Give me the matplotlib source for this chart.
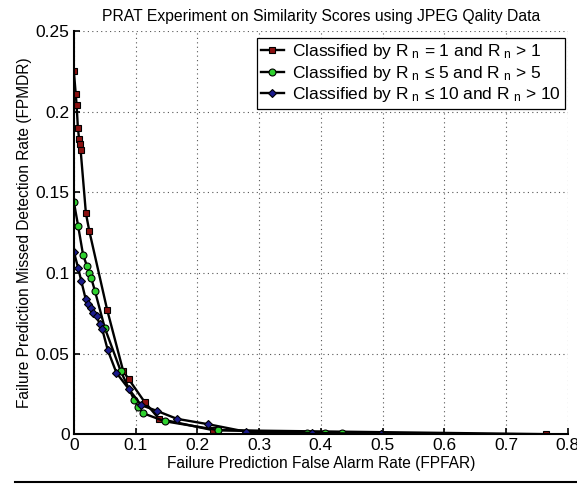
import matplotlib
matplotlib.use('Agg')
import matplotlib.pyplot as plt
from matplotlib.lines import Line2D

plt.rcParams['font.family'] = ['Liberation Sans', 'DejaVu Sans']
plt.rcParams['mathtext.default'] = 'regular'

# data
red_x = [0, 0.003, 0.0045, 0.0065, 0.0085, 0.0097, 0.011, 0.0195, 0.025, 0.054,
         0.08, 0.089, 0.1145, 0.138, 0.225, 0.765]
red_y = [0.225, 0.211, 0.204, 0.19, 0.183, 0.18, 0.176, 0.137, 0.126, 0.077,
         0.039, 0.034, 0.02, 0.0095, 0.0025, 0.0]

green_x = [0, 0.007, 0.015, 0.0215, 0.025, 0.028, 0.034, 0.05, 0.076, 0.098,
           0.104, 0.112, 0.147, 0.234, 0.378, 0.406, 0.434]
green_y = [0.144, 0.129, 0.111, 0.104, 0.1, 0.097, 0.089, 0.066, 0.039, 0.021,
           0.017, 0.013, 0.008, 0.0025, 0.001, 0.0008, 0.0006]

blue_x = [0, 0.007, 0.012, 0.019, 0.023, 0.027, 0.031, 0.037, 0.042, 0.046,
          0.055, 0.069, 0.089, 0.109, 0.134, 0.167, 0.217, 0.279, 0.385, 0.498]
blue_y = [0.113, 0.103, 0.095, 0.084, 0.081, 0.078, 0.075, 0.073, 0.068, 0.065,
          0.052, 0.038, 0.028, 0.018, 0.0145, 0.0095, 0.0062, 0.0015, 0.0008, 0.0]

labels = [r'Classified by R$_{\ n}$ = 1 and R$_{\ n}$ > 1',
          r'Classified by R$_{\ n}$ ≤ 5 and R$_{\ n}$ > 5',
          r'Classified by R$_{\ n}$ ≤ 10 and R$_{\ n}$ > 10']

xticks = [0, 0.1, 0.2, 0.3, 0.4, 0.5, 0.6, 0.7, 0.8]
yticks = [0, 0.05, 0.1, 0.15, 0.2, 0.25]

fig = plt.figure(figsize=(5.77, 4.84), dpi=100)
ax = fig.add_axes([0.128, 0.103, 0.856, 0.833])

ax.plot(red_x, red_y, '-s', color='black', lw=1.7, ms=5, mfc='#8b1010', mec='black',
        mew=0.8, label=labels[0])
ax.plot(green_x, green_y, '-o', color='black', lw=1.7, ms=5, mfc='#2fd02f', mec='black',
        mew=0.8, label=labels[1])
ax.plot(blue_x, blue_y, '-D', color='black', lw=1.7, ms=4.5, mfc='#1a1a8c', mec='black',
        mew=0.8, label=labels[2])

ax.set_xlim(0, 0.8)
ax.set_ylim(0, 0.25)
ax.set_xticks(xticks)
ax.set_xticklabels(['0', '0.1', '0.2', '0.3', '0.4', '0.5', '0.6', '0.7', '0.8'])
ax.set_yticks(yticks)
ax.set_yticklabels(['0', '0.05', '0.1', '0.15', '0.2', '0.25'])
ax.tick_params(direction='in', labelsize=12.5, length=4, width=1.2, pad=3)
ax.grid(True, linestyle=(0, (1, 3)), color='#555555', lw=0.8)
for s in ['top', 'right']:
    ax.spines[s].set_visible(False)
for s in ['left', 'bottom']:
    ax.spines[s].set_linewidth(1.5)

ax.set_title('PRAT Experiment on Similarity Scores using JPEG Qality Data', fontsize=11.3, pad=7)
ax.set_xlabel('Failure Prediction False Alarm Rate (FPFAR)', fontsize=11.2, labelpad=2)
ax.set_ylabel('Failure Prediction Missed Detection Rate (FPMDR)', fontsize=11.2, labelpad=3)

leg = ax.legend(loc='upper right', bbox_to_anchor=(0.995, 0.983), fontsize=12.5,
                fancybox=False, framealpha=1, edgecolor='black', handlelength=1.3,
                handletextpad=0.5, borderpad=0.25, labelspacing=0.15, borderaxespad=0)
leg.get_frame().set_linewidth(0.9)

fig.add_artist(Line2D([0.026, 1.0], [0.004, 0.004], color='black', lw=1.5))

fig.savefig('out.png', dpi=100)
